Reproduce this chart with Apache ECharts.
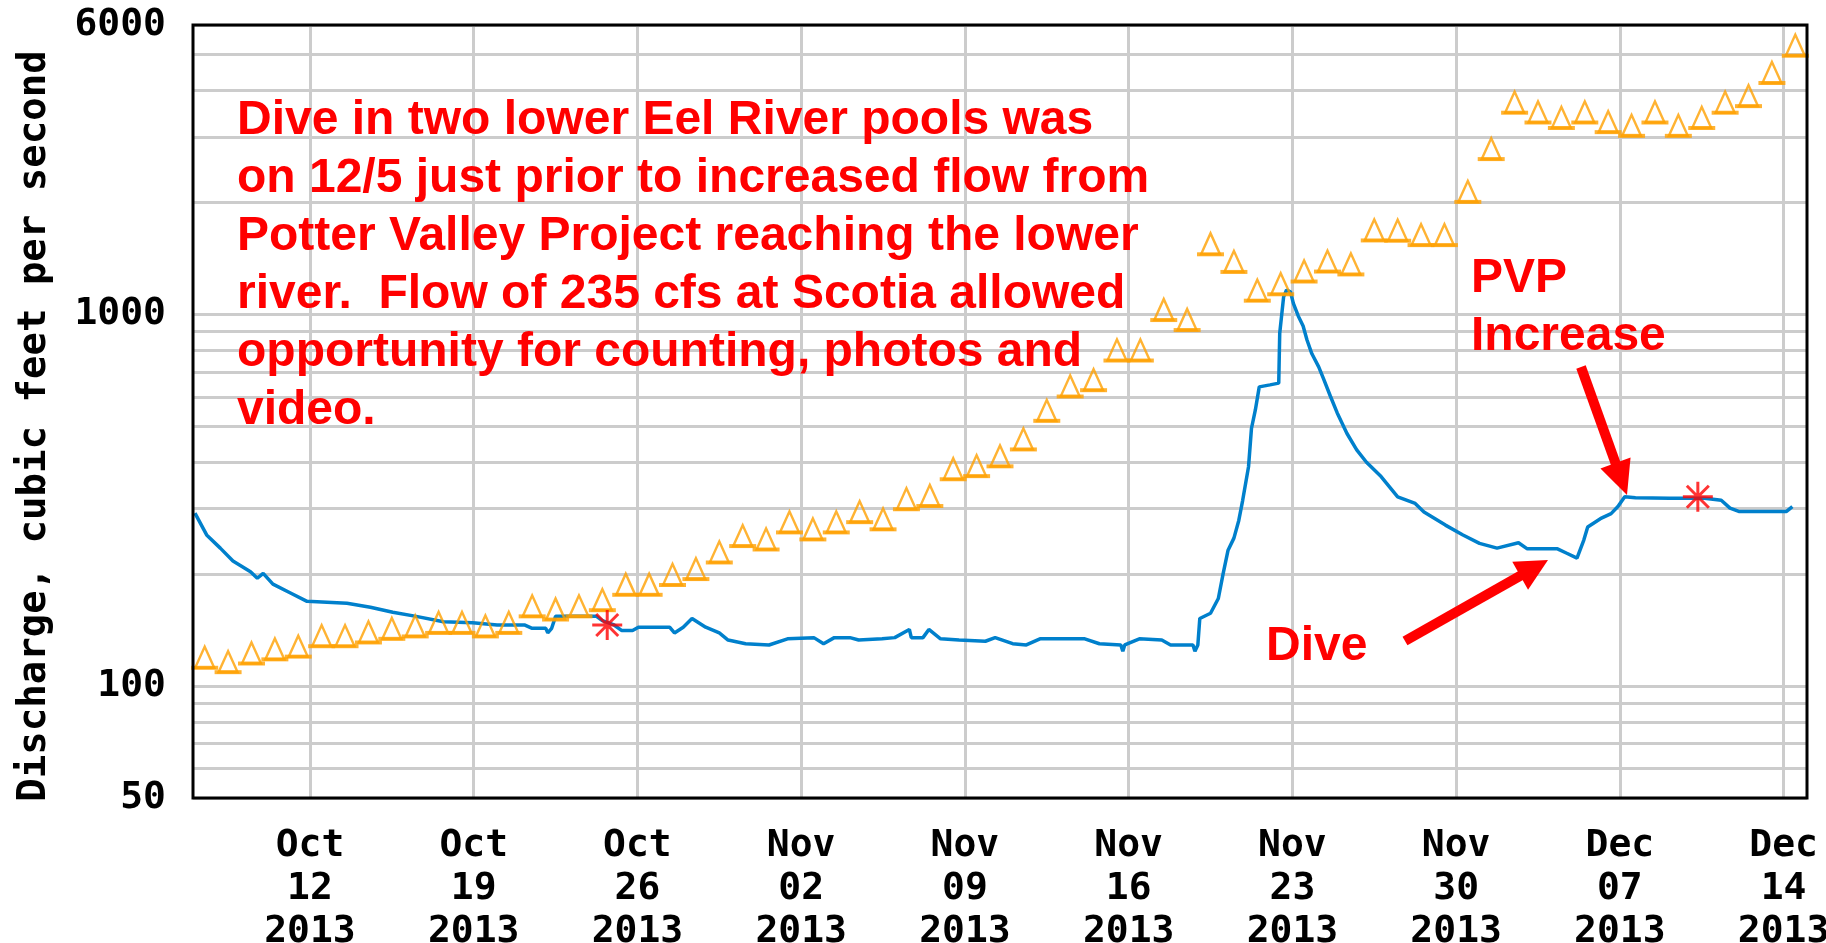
<!DOCTYPE html>
<html><head><meta charset="utf-8">
<script src="https://cdn.jsdelivr.net/npm/echarts@6/dist/echarts.min.js"></script>
<style>html,body{margin:0;padding:0;background:#fff}#c{width:1826px;height:943px}</style>
</head><body><div id="c"></div>
<script>
// ---- data ----
const flowTimes = [
'2013-10-07 02:00','2013-10-07 14:00','2013-10-08 04:00','2013-10-08 17:00','2013-10-09 11:00','2013-10-09 18:00','2013-10-10 00:00','2013-10-10 10:00','2013-10-11 04:00','2013-10-11 21:00',
'2013-10-13 14:00','2013-10-14 14:00','2013-10-15 13:00','2013-10-16 13:00','2013-10-17 17:00','2013-10-18 23:00','2013-10-20 00:00','2013-10-21 04:00','2013-10-21 12:00','2013-10-22 02:00',
'2013-10-22 04:00','2013-10-22 08:00','2013-10-22 12:00','2013-10-24 06:00','2013-10-24 12:00','2013-10-25 00:00','2013-10-25 08:00','2013-10-25 19:00','2013-10-26 01:00','2013-10-27 09:00',
'2013-10-27 14:00','2013-10-27 23:00','2013-10-28 08:00','2013-10-28 22:00','2013-10-29 12:00','2013-10-29 21:00','2013-10-30 15:00','2013-10-31 15:00','2013-11-01 10:00','2013-11-02 13:00',
'2013-11-02 23:00','2013-11-03 10:00','2013-11-04 02:00','2013-11-04 11:00','2013-11-05 11:00','2013-11-06 00:00','2013-11-06 15:00','2013-11-06 17:00','2013-11-07 05:00','2013-11-07 11:00',
'2013-11-07 23:00','2013-11-08 18:00','2013-11-09 21:00','2013-11-10 07:00','2013-11-11 01:00','2013-11-11 15:00','2013-11-12 05:00','2013-11-14 03:00','2013-11-14 18:00','2013-11-15 16:00',
'2013-11-15 18:00','2013-11-15 20:00','2013-11-16 11:00','2013-11-17 10:00','2013-11-17 19:00','2013-11-18 18:00','2013-11-18 20:00','2013-11-18 23:00','2013-11-19 01:00','2013-11-19 12:00',
'2013-11-19 20:00','2013-11-20 01:00','2013-11-20 06:00','2013-11-20 12:00','2013-11-20 17:00','2013-11-20 21:00','2013-11-21 03:00','2013-11-21 06:00','2013-11-21 10:00','2013-11-21 14:00',
'2013-11-22 01:00','2013-11-22 10:00','2013-11-22 11:00','2013-11-22 15:00','2013-11-22 18:00','2013-11-22 22:00','2013-11-23 01:00','2013-11-23 06:00','2013-11-23 11:00','2013-11-23 15:00',
'2013-11-23 20:00','2013-11-24 03:00','2013-11-24 08:00','2013-11-24 15:00','2013-11-24 22:00','2013-11-25 08:00','2013-11-25 18:00','2013-11-26 04:00','2013-11-26 19:00','2013-11-27 12:00',
'2013-11-28 06:00','2013-11-28 15:00','2013-11-29 13:00','2013-11-30 07:00','2013-12-01 00:00','2013-12-01 18:00','2013-12-02 16:00','2013-12-03 01:00','2013-12-04 08:00','2013-12-04 17:00',
'2013-12-05 04:00','2013-12-05 11:00','2013-12-05 15:00','2013-12-06 04:00','2013-12-06 15:00','2013-12-06 22:00','2013-12-07 05:00','2013-12-07 16:00','2013-12-09 03:00','2013-12-10 15:00',
'2013-12-11 08:00','2013-12-11 17:00','2013-12-12 02:00','2013-12-13 09:00','2013-12-14 03:00','2013-12-14 09:00'];
const flowValues = [292,255,235,217,203,195,201,188,178,169,
167,163,158,154,149,148,146,146,143,143,
139,143,154,154,150,146,141,141,144,144,
139,144,152,144,139,133,130,129,134,135,
130,135,135,133,134,135,142,135,135,142,
134,133,132,135,130,129,134,134,130,129,
124,129,134,133,129,129,124,129,152,157,
172,201,232,250,279,316,389,493,553,638,
646,653,889,1114,1162,1150,1070,990,930,853,
783,722,670,602,543,478,432,400,366,323,
310,294,271,255,242,235,243,234,234,228,
221,247,268,282,291,304,323,321,320,320,
316,301,295,295,295,304];

const medianDates = [
'2013-10-07','2013-10-08','2013-10-09','2013-10-10','2013-10-11','2013-10-12','2013-10-13','2013-10-14','2013-10-15','2013-10-16',
'2013-10-17','2013-10-18','2013-10-19','2013-10-20','2013-10-21','2013-10-22','2013-10-23','2013-10-24','2013-10-25','2013-10-26',
'2013-10-27','2013-10-28','2013-10-29','2013-10-30','2013-10-31','2013-11-01','2013-11-02','2013-11-03','2013-11-04','2013-11-05',
'2013-11-06','2013-11-07','2013-11-08','2013-11-09','2013-11-10','2013-11-11','2013-11-12','2013-11-13','2013-11-14','2013-11-15',
'2013-11-16','2013-11-17','2013-11-18','2013-11-19','2013-11-20','2013-11-21','2013-11-22','2013-11-23','2013-11-24','2013-11-25',
'2013-11-26','2013-11-27','2013-11-28','2013-11-29','2013-11-30','2013-12-01','2013-12-02','2013-12-03','2013-12-04','2013-12-05',
'2013-12-06','2013-12-07','2013-12-08','2013-12-09','2013-12-10','2013-12-11','2013-12-12','2013-12-13','2013-12-14'];
const medianValues = [112,109,115,118,120,128,128,131,134,136,
139,139,136,139,154,151,154,160,176,176,
187,194,215,238,233,259,248,259,276,264,
299,305,360,367,390,433,517,601,625,751,
751,965,907,1450,1300,1088,1132,1225,1303,1280,
1580,1577,1535,1535,2006,2615,3485,3280,3170,3280,
3090,3020,3280,3020,3170,3485,3630,4190,4960];

const measuredTimes = ['2013-10-24 17:00','2013-12-10 08:00'];
const measuredValues = [146, 323];

const xStart = '2013-10-07';
const xEnd = '2013-12-15';
const weekTicks = ['2013-10-12','2013-10-19','2013-10-26','2013-11-02','2013-11-09','2013-11-16','2013-11-23','2013-11-30','2013-12-07','2013-12-14'];
const monthNames = ['Jan','Feb','Mar','Apr','May','Jun','Jul','Aug','Sep','Oct','Nov','Dec'];
const yMin = 50, yMax = 6000;
const minorGridValues = [60,70,80,90,200,300,400,500,600,700,800,900,2000,3000,4000,5000];

const yTitle = 'Discharge, cubic feet per second';
const noteLines = [
'Dive in two lower Eel River pools was',
'on 12/5 just prior to increased flow from',
'Potter Valley Project reaching the lower',
'river.  Flow of 235 cfs at Scotia allowed',
'opportunity for counting, photos and',
'video.'];
const pvpText = ['PVP', 'Increase'];
const diveText = 'Dive';

// ---- helpers ----
function utc(s) {
  const parts = s.split(' ');
  const d = parts[0].split('-').map(Number);
  const t = (parts[1] || '00:00').split(':').map(Number);
  return Date.UTC(d[0], d[1] - 1, d[2], t[0], t[1]);
}
const HALF_DAY = 12 * 3600 * 1000;
const flowData = flowTimes.map((t, i) => [utc(t), flowValues[i]]);
const medianData = medianDates.map((d, i) => [utc(d) + HALF_DAY, medianValues[i]]);
const measuredData = measuredTimes.map((t, i) => [utc(t), measuredValues[i]]);
const tickNums = weekTicks.map(utc);

const RED = '#ff0000';
function arrow(x1, y1, x2, y2, hl, hw, sw) {
  const dx = x2 - x1, dy = y2 - y1, L = Math.hypot(dx, dy);
  const ux = dx / L, uy = dy / L, px = -uy, py = ux;
  const bx = x2 - ux * hl, by = y2 - uy * hl;
  return [
    { type: 'line', z: 20, shape: { x1: x1, y1: y1, x2: bx + ux * 3, y2: by + uy * 3 }, style: { stroke: RED, lineWidth: sw } },
    { type: 'polygon', z: 20, shape: { points: [[x2, y2], [bx + px * hw / 2, by + py * hw / 2], [bx - px * hw / 2, by - py * hw / 2]] }, style: { fill: RED } }
  ];
}

const monoFont = '"DejaVu Sans Mono", "Liberation Mono", monospace';
const noteFont = 'bold 48px "Liberation Sans", Arial, sans-serif';

const chart = echarts.init(document.getElementById('c'), null, { renderer: 'canvas' });
chart.setOption({
  animation: false,
  backgroundColor: '#ffffff',
  grid: { left: 193, top: 25, width: 1614, height: 773, show: true, z: 10,
          containLabel: false, outerBoundsMode: 'none',
          backgroundColor: 'transparent', borderColor: '#000000', borderWidth: 3 },
  xAxis: {
    type: 'value', min: utc(xStart), max: utc(xEnd), scale: true,
    axisLine: { show: false },
    axisTick: { show: false, customValues: tickNums },
    splitLine: { show: true, lineStyle: { color: '#cccccc', width: 3 } },
    axisLabel: {
      customValues: tickNums,
      hideOverlap: false,
      margin: 27,
      color: '#000', fontFamily: monoFont, fontWeight: 'bold', fontSize: 38, lineHeight: 43,
      formatter: function (v) {
        const d = new Date(v);
        const dd = String(d.getUTCDate()).padStart(2, '0');
        return monthNames[d.getUTCMonth()] + '\n' + dd + '\n' + d.getUTCFullYear();
      }
    }
  },
  yAxis: {
    type: 'log', logBase: 10, min: yMin, max: yMax,
    axisLine: { show: false }, axisTick: { show: false },
    splitLine: { show: true, lineStyle: { color: '#cccccc', width: 3 } },
    axisLabel: { margin: 27, color: '#000', fontFamily: monoFont, fontWeight: 'bold', fontSize: 38,
                 showMinLabel: true, showMaxLabel: true,
                 formatter: function (v) { return String(Math.round(v)); } }
  },
  series: [
    {
      name: 'Discharge', type: 'line', data: flowData, showSymbol: false, z: 3,
      lineStyle: { color: '#0080cc', width: 3.5 }, itemStyle: { color: '#0080cc' },
      emphasis: { disabled: true },
      markLine: {
        silent: true, symbol: ['none', 'none'], z: 1, animation: false,
        label: { show: false },
        emphasis: { disabled: true },
        lineStyle: { color: '#cccccc', width: 3, type: 'solid' },
        data: minorGridValues.map(v => ({ yAxis: v }))
      }
    },
    {
      name: 'Median base', type: 'scatter', data: medianData, z: 4,
      symbol: 'rect', symbolSize: [27, 4],
      itemStyle: { color: '#ffa000' }, emphasis: { disabled: true }
    },
    {
      name: 'Median daily statistic', type: 'scatter', data: medianData, z: 4,
      symbol: 'path://M0,20L10,0L20,20Z', symbolSize: [19, 21], symbolOffset: [0, -10.5],
      itemStyle: { color: 'rgba(0,0,0,0)', borderColor: '#ffa000', borderWidth: 2.5 },
      emphasis: { disabled: true }
    },
    {
      name: 'Measured discharge', type: 'scatter', data: measuredData, z: 5,
      symbol: 'path://M15,0L15,30M0,15L30,15M4,4L26,26M26,4L4,26', symbolSize: 30,
      itemStyle: { color: 'rgba(0,0,0,0)', borderColor: RED, borderWidth: 3 },
      emphasis: { disabled: true }
    }
  ],
  graphic: [
    { type: 'text', x: 35, y: 426, rotation: Math.PI / 2, z: 20,
      style: { text: yTitle, fill: '#000', font: 'bold 39px ' + monoFont, align: 'center', verticalAlign: 'middle' } },
    { type: 'text', x: 237, y: 92, z: 20,
      style: { text: noteLines.join('\n'), fill: RED, font: noteFont, lineHeight: 58, align: 'left', verticalAlign: 'top' } },
    { type: 'text', x: 1471, y: 250, z: 20,
      style: { text: pvpText.join('\n'), fill: RED, font: noteFont, lineHeight: 58, align: 'left', verticalAlign: 'top' } },
    { type: 'text', x: 1266, y: 618, z: 20,
      style: { text: diveText, fill: RED, font: noteFont, lineHeight: 58, align: 'left', verticalAlign: 'top' } }
  ].concat(arrow(1581, 367, 1627, 495, 34, 32, 10)).concat(arrow(1405, 641, 1548, 560, 32, 32, 10))
});
</script>
</body></html>
